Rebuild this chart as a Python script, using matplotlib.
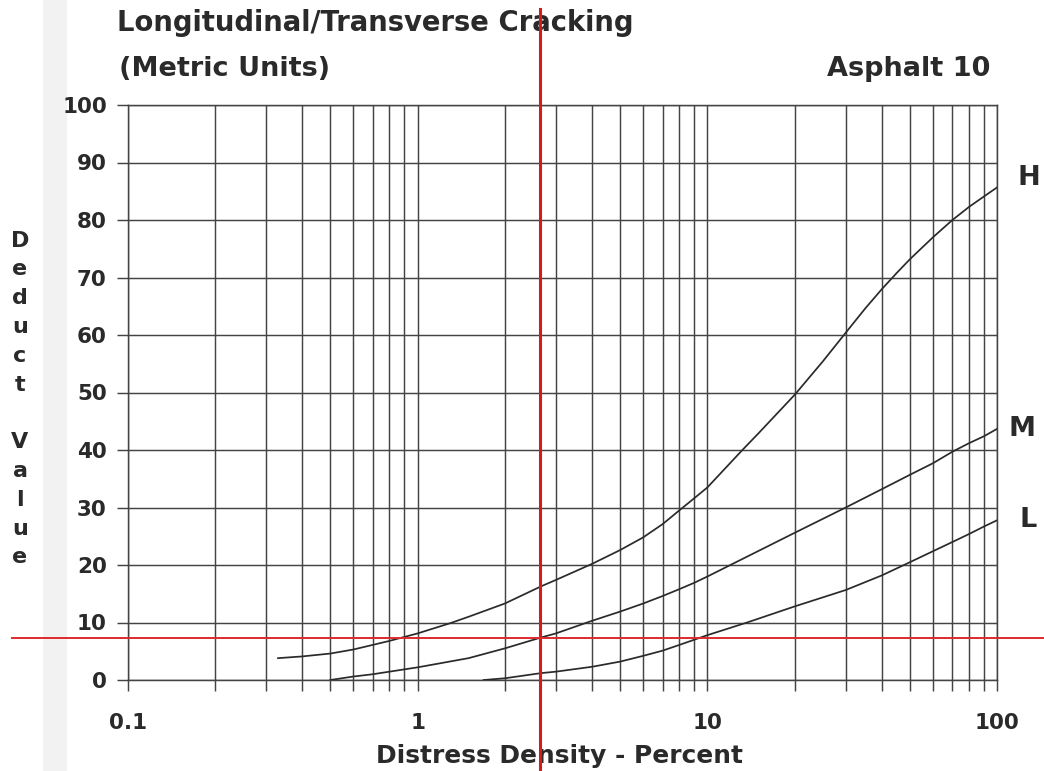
import matplotlib
matplotlib.use("Agg")
import matplotlib.pyplot as plt
import matplotlib.transforms as mtransforms
from matplotlib.lines import Line2D
from matplotlib.patches import Rectangle
from matplotlib.ticker import FixedLocator, FixedFormatter, LogLocator, NullFormatter

# ---------------- data ----------------
h_density = [0.33, 0.4, 0.5, 0.6, 0.7, 0.8, 1.0, 1.3, 1.5, 2.0, 2.67, 3, 4, 5, 6, 7, 8, 9,
             10, 13.2, 15, 20, 25, 30, 35, 40, 45, 50, 60, 70, 80, 90, 100]
h_deduct = [3.8, 4.1, 4.6, 5.3, 6.1, 6.8, 8.1, 9.9, 11.0, 13.3, 16.3, 17.4, 20.2, 22.6, 24.8,
            27.1, 29.5, 31.6, 33.5, 40.0, 42.9, 49.6, 55.4, 60.4, 64.6, 68.0, 70.8, 73.2, 77.0,
            80.0, 82.3, 84.1, 85.7]

m_density = [0.5, 0.6, 0.7, 0.8, 1.0, 1.5, 2.0, 2.67, 3, 4, 5, 6, 7, 8, 9, 10, 12,
             20, 30, 40, 50, 60, 70, 80, 90, 100]
m_deduct = [0.0, 0.6, 1.0, 1.45, 2.2, 3.8, 5.5, 7.4, 8.1, 10.3, 11.9, 13.3, 14.6, 15.8, 16.9,
            18.0, 20.0, 25.6, 30.0, 33.2, 35.7, 37.7, 39.7, 41.2, 42.4, 43.7]

l_density = [1.69, 2.0, 2.67, 3, 4, 5, 6, 7, 8, 9, 10, 13.7, 20, 30, 40, 50, 60, 70, 80, 90, 100]
l_deduct = [0.0, 0.3, 1.2, 1.45, 2.3, 3.2, 4.2, 5.1, 6.1, 7.0, 7.8, 10.0, 12.8, 15.65, 18.2,
            20.5, 22.4, 24.0, 25.4, 26.7, 27.8]

curve_labels = ["H", "M", "L"]

x_ticks = [0.1, 1, 10, 100]
x_tick_labels = ["0.1", "1", "10", "100"]
y_ticks = [0, 10, 20, 30, 40, 50, 60, 70, 80, 90, 100]
y_tick_labels = ["0", "10", "20", "30", "40", "50", "60", "70", "80", "90", "100"]

marker_density = [2.64]   # red vertical reading line
marker_deduct = [7.3]     # red horizontal reading line

title_text = "Longitudinal/Transverse Cracking"
subtitle_text = "(Metric Units)"
corner_text = "Asphalt 10"
x_label = "Distress Density - Percent"
y_label = "Deduct Value"

# ---------------- style ----------------
W, H = 1044, 771
plt.rcParams["font.family"] = ["DejaVu Sans"]
plt.rcParams["font.weight"] = "bold"
plt.rcParams["axes.labelweight"] = "bold"
TXT = "#2a2a2a"
GRID = "#444444"
CURVE = "#2a2a2a"
RED = "#d41c1c"

fig = plt.figure(figsize=(W / 100, H / 100), dpi=100, facecolor="white")

# faint scan band at the left
fig.add_artist(Rectangle((43 / W, 0), 24 / W, 1, transform=fig.transFigure,
                         facecolor="#f2f2f2", edgecolor="none", zorder=0))

ax = fig.add_axes([127.7 / W, 1 - 680 / H, (997.3 - 127.7) / W, 575 / H])
ax.set_facecolor("none")
ax.set_xscale("log")
ax.set_xlim(x_ticks[0], x_ticks[-1])
ax.set_ylim(y_ticks[0], y_ticks[-1])

ax.xaxis.set_major_locator(FixedLocator(x_ticks))
ax.xaxis.set_major_formatter(FixedFormatter(x_tick_labels))
ax.xaxis.set_minor_locator(LogLocator(base=10, subs=[2, 3, 4, 5, 6, 7, 8, 9]))
ax.xaxis.set_minor_formatter(NullFormatter())
ax.yaxis.set_major_locator(FixedLocator(y_ticks))
ax.yaxis.set_major_formatter(FixedFormatter(y_tick_labels))

ax.grid(True, which="both", axis="x", color=GRID, lw=1.05)
ax.grid(True, which="major", axis="y", color=GRID, lw=1.05)
ax.set_axisbelow(True)
for s in ax.spines.values():
    s.set_color(GRID)
    s.set_linewidth(1.05)

ax.tick_params(axis="both", which="both", direction="out", length=7.6, width=1.05,
               color=GRID, labelcolor=TXT, top=False, right=False)
ax.tick_params(axis="x", which="major", pad=16.0, labelsize=15.5)
ax.tick_params(axis="y", which="major", pad=7.4, labelsize=15.5)

# curves
series = [(h_density, h_deduct), (m_density, m_deduct), (l_density, l_deduct)]
for xs, ys in series:
    ax.plot(xs, ys, color=CURVE, lw=1.25, solid_joinstyle="round", zorder=3)

# curve end labels
label_offsets = [(20, 9), (11, 0), (22, 0)]
for (xs, ys), lab, (dx, dy) in zip(series, curve_labels, label_offsets):
    ax.annotate(lab, xy=(xs[-1], ys[-1]), xytext=(dx, dy), textcoords="offset pixels",
                ha="left", va="center", fontsize=19.5, color=TXT, annotation_clip=False)

# red reading lines (extend beyond the axes, as in the scan)
tv = mtransforms.blended_transform_factory(ax.transData, fig.transFigure)
fig.add_artist(Line2D([marker_density[0], marker_density[0]], [0, 1 - 9 / H],
                      transform=tv, color=RED, lw=2.2, zorder=10))
th = mtransforms.blended_transform_factory(fig.transFigure, ax.transData)
fig.add_artist(Line2D([12 / W, 1], [marker_deduct[0], marker_deduct[0]],
                      transform=th, color="#e02a2a", lw=1.4, zorder=10))

# texts
fig.text(117 / W, 1 - 31 / H, title_text, fontsize=19.8, color=TXT, ha="left", va="baseline")
fig.text(119 / W, 1 - 76 / H, subtitle_text, fontsize=19.5, color=TXT, ha="left", va="baseline")
fig.text(990 / W, 1 - 76 / H, corner_text, fontsize=19.5, color=TXT, ha="right", va="baseline")

ax.set_xlabel(x_label, fontsize=17.9, fontweight="bold", color=TXT, va="baseline")
ax.xaxis.set_label_coords((560 - 127.7) / 869.6, (680 - 763) / 575)

stacked = "\n".join("" if ch == " " else ch for ch in y_label)
ax.set_ylabel(stacked, rotation=0, fontsize=16, fontweight="bold", color=TXT, linespacing=1.55,
              ha="center", va="center", multialignment="center")
ax.yaxis.set_label_coords((20 - 127.7) / 869.6, (680 - 399) / 575)

fig.savefig("out.png", dpi=100, facecolor="white")
